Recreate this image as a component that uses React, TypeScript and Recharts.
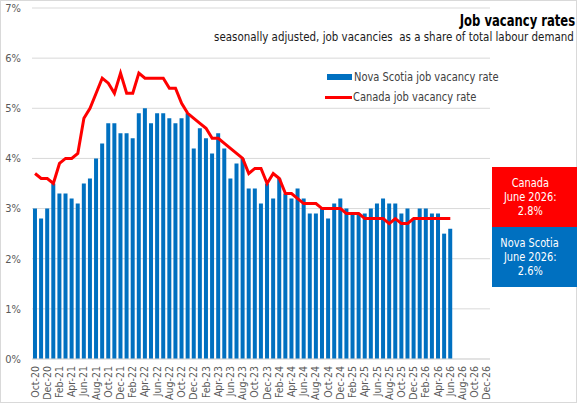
import { ComposedChart, Bar, Line, XAxis, YAxis, CartesianGrid, Legend } from 'recharts';

const FONT = '"Liberation Sans Narrow", "DejaVu Sans Condensed", "Roboto", sans-serif';

// monthly categories Oct-20 .. Dec-26 (bars/line stop at Jun-26)
const months = [
    'Oct-20', 'Nov-20', 'Dec-20',
    'Jan-21', 'Feb-21', 'Mar-21', 'Apr-21', 'May-21', 'Jun-21', 'Jul-21', 'Aug-21', 'Sep-21', 'Oct-21', 'Nov-21', 'Dec-21',
    'Jan-22', 'Feb-22', 'Mar-22', 'Apr-22', 'May-22', 'Jun-22', 'Jul-22', 'Aug-22', 'Sep-22', 'Oct-22', 'Nov-22', 'Dec-22',
    'Jan-23', 'Feb-23', 'Mar-23', 'Apr-23', 'May-23', 'Jun-23', 'Jul-23', 'Aug-23', 'Sep-23', 'Oct-23', 'Nov-23', 'Dec-23',
    'Jan-24', 'Feb-24', 'Mar-24', 'Apr-24', 'May-24', 'Jun-24', 'Jul-24', 'Aug-24', 'Sep-24', 'Oct-24', 'Nov-24', 'Dec-24',
    'Jan-25', 'Feb-25', 'Mar-25', 'Apr-25', 'May-25', 'Jun-25', 'Jul-25', 'Aug-25', 'Sep-25', 'Oct-25', 'Nov-25', 'Dec-25',
    'Jan-26', 'Feb-26', 'Mar-26', 'Apr-26', 'May-26', 'Jun-26', 'Jul-26', 'Aug-26', 'Sep-26', 'Oct-26', 'Nov-26', 'Dec-26',
];

const novaScotia = [
    3.0, 2.8, 3.0,
    3.5, 3.3, 3.3, 3.2, 3.1, 3.5, 3.6, 4.0, 4.3, 4.7, 4.7, 4.5,
    4.5, 4.4, 4.9, 5.0, 4.7, 4.9, 4.9, 4.8, 4.7, 4.8, 4.9, 4.2,
    4.6, 4.4, 4.1, 4.5, 4.2, 3.6, 3.9, 4.0, 3.4, 3.4, 3.1, 3.5,
    3.2, 3.6, 3.3, 3.2, 3.4, 3.2, 2.9, 2.9, 3.0, 2.8, 3.1, 3.2,
    3.0, 2.9, 2.9, 2.9, 3.0, 3.1, 3.2, 3.1, 3.1, 2.9, 3.0, 2.8,
    3.0, 3.0, 2.9, 2.9, 2.5, 2.6,
];

const canada = [
    3.7, 3.6, 3.6,
    3.5, 3.9, 4.0, 4.0, 4.1, 4.8, 5.0, 5.3, 5.6, 5.5, 5.3, 5.7,
    5.3, 5.3, 5.7, 5.6, 5.6, 5.6, 5.6, 5.4, 5.4, 5.1, 4.9, 4.8,
    4.7, 4.6, 4.4, 4.4, 4.3, 4.2, 4.1, 4.0, 3.7, 3.8, 3.8, 3.5,
    3.7, 3.6, 3.3, 3.3, 3.2, 3.1, 3.1, 3.1, 3.0, 3.0, 3.0, 3.0,
    2.9, 2.9, 2.9, 2.8, 2.8, 2.8, 2.8, 2.7, 2.8, 2.7, 2.7, 2.8,
    2.8, 2.8, 2.8, 2.8, 2.8, 2.8,
];

const yTicks = [0, 1, 2, 3, 4, 5, 6, 7];

const data = months.map((month, i) => ({
    month,
    ns: novaScotia[i] ?? null,
    ca: canada[i] ?? null,
}));

// squeeze the condensed font a bit further to get close to a narrow face
const Narrow = ({ s, origin = 'left', children }: any) => (
    <span style={{ display: 'inline-block', transform: `scaleX(${s})`, transformOrigin: origin, whiteSpace: 'pre' }}>
        {children}
    </span>
);

const MonthTick = ({ x, y, payload }: any) => (
    <text
        x={x}
        y={y}
        dy={3.5}
        transform={`rotate(-90 ${x} ${y})`}
        textAnchor="end"
        fill="#595959"
        fontSize={10.5}
        fontFamily={FONT}
    >
        {payload.value}
    </text>
);

const LegendBox = () => (
    <div style={{ fontFamily: FONT, fontSize: 12.5, color: '#404040', lineHeight: '20px', whiteSpace: 'nowrap' }}>
        <div style={{ display: 'flex', alignItems: 'center' }}>
            <span style={{ flexShrink: 0, width: 25, height: 6, background: '#0070C0', marginLeft: 2, marginRight: 2 }} />
            <Narrow s={0.88}>Nova Scotia job vacancy rate</Narrow>
        </div>
        <div style={{ display: 'flex', alignItems: 'center' }}>
            <span style={{ flexShrink: 0, width: 27, height: 3, background: '#FF0000', marginRight: 1 }} />
            <Narrow s={0.88}>Canada job vacancy rate</Narrow>
        </div>
    </div>
);

const noteStyle = {
    position: 'absolute' as const,
    left: 492,
    width: 85,
    height: 60,
    paddingRight: 9,
    boxSizing: 'border-box' as const,
    color: '#fff',
    fontFamily: FONT,
    fontSize: 12.5,
    lineHeight: '14px',
    textAlign: 'center' as const,
    display: 'flex',
    flexDirection: 'column' as const,
    justifyContent: 'center',
};

export default function App() {
    return (
        <div style={{ position: 'absolute', left: 0, top: 0, width: 577, height: 403, background: '#fff' }}>
            <div style={{ position: 'absolute', inset: 0, border: '1px solid #d9d9d9', boxSizing: 'border-box' }} />
            <ComposedChart
                width={577}
                height={403}
                data={data}
                margin={{ top: 8, right: 87, bottom: 0, left: 0 }}
                barCategoryGap="16%"
            >
                <CartesianGrid vertical={false} stroke="#d9d9d9" />
                <XAxis
                    dataKey="month"
                    interval={1}
                    height={44}
                    tickLine={false}
                    tickSize={0}
                    tickMargin={7}
                    axisLine={{ stroke: '#d9d9d9' }}
                    tick={<MonthTick />}
                />
                <YAxis
                    width={32}
                    domain={[0, 7]}
                    ticks={yTicks}
                    axisLine={false}
                    tickLine={false}
                    tickSize={0}
                    tickMargin={11}
                    tick={{ fill: '#595959', fontSize: 11, fontFamily: FONT }}
                    tickFormatter={(v) => `${v}%`}
                />
                <Legend
                    layout="horizontal"
                    verticalAlign="middle"
                    content={<LegendBox />}
                    wrapperStyle={{ left: 325, top: 67, width: 220, height: 40 }}
                />
                <Bar dataKey="ns" name="Nova Scotia job vacancy rate" fill="#0070C0" isAnimationActive={false} />
                <Line
                    dataKey="ca"
                    name="Canada job vacancy rate"
                    stroke="#FF0000"
                    strokeWidth={3}
                    dot={false}
                    activeDot={false}
                    type="linear"
                    isAnimationActive={false}
                />
            </ComposedChart>
            <div style={{ position: 'absolute', right: 2, top: 12, fontFamily: FONT, fontWeight: 'bold', fontSize: 15, color: '#000' }}>
                <Narrow s={0.86} origin="right">Job vacancy rates</Narrow>
            </div>
            <div style={{ position: 'absolute', right: 3, top: 29, fontFamily: FONT, fontSize: 13, color: '#1a1a1a' }}>
                <Narrow s={0.88} origin="right">seasonally adjusted, job vacancies  as a share of total labour demand</Narrow>
            </div>
            <div style={{ ...noteStyle, top: 167, background: '#FF0000' }}>
                <div><Narrow s={0.87} origin="center">Canada</Narrow></div>
                <div><Narrow s={0.87} origin="center">June 2026:</Narrow></div>
                <div><Narrow s={0.87} origin="center">2.8%</Narrow></div>
            </div>
            <div style={{ ...noteStyle, top: 227, background: '#0070C0' }}>
                <div><Narrow s={0.87} origin="center">Nova Scotia</Narrow></div>
                <div><Narrow s={0.87} origin="center">June 2026:</Narrow></div>
                <div><Narrow s={0.87} origin="center">2.6%</Narrow></div>
            </div>
        </div>
    );
}
